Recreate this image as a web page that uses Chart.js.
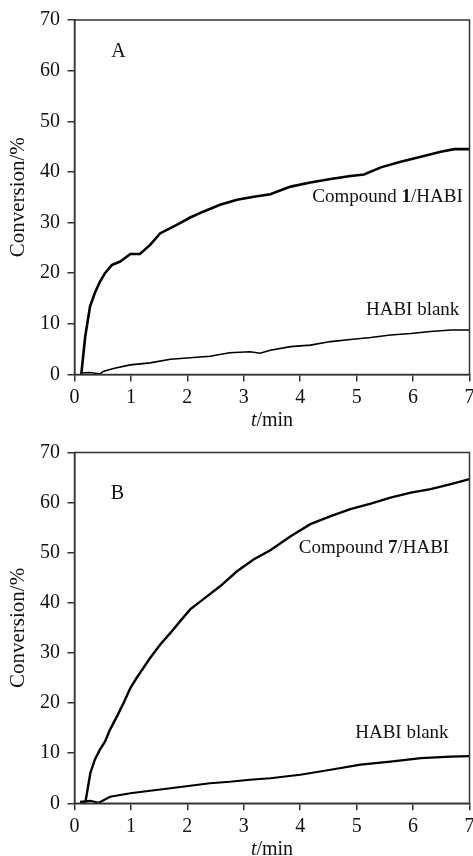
<!DOCTYPE html>
<html>
<head>
<meta charset="utf-8">
<script src="https://cdn.jsdelivr.net/npm/chart.js@4/dist/chart.umd.min.js"></script>
<style>
  html, body { margin: 0; padding: 0; background: #fff; overflow: hidden; width: 473px; height: 856px; }
  .wrap { position: absolute; left: 0; width: 480px; }
  #boxA { top: 0; height: 432px; }
  #boxB { top: 432px; height: 424px; }
</style>
</head>
<body>
<div class="wrap" id="boxA"><canvas id="chartA"></canvas></div>
<div class="wrap" id="boxB"><canvas id="chartB"></canvas></div>
<script>
// panel A: compound 1/HABI and HABI blank
const timeA1 = [0.12, 0.19, 0.275, 0.36, 0.45, 0.54, 0.66, 0.81, 0.99, 1.16, 1.34, 1.52, 1.70, 1.87, 2.05, 2.29, 2.58, 2.88, 3.18, 3.47, 3.83, 4.18, 4.54, 4.89, 5.13, 5.43, 5.78, 6.14, 6.49, 6.73, 7.0];
const convA1 = [0, 7.5, 13.4, 16.1, 18.3, 20, 21.6, 22.3, 23.8, 23.8, 25.6, 27.9, 28.9, 29.9, 31, 32.2, 33.5, 34.5, 35.1, 35.6, 37.1, 37.9, 38.6, 39.2, 39.5, 40.9, 42, 43, 44, 44.5, 44.5];
const timeA0 = [0.12, 0.28, 0.45, 0.51, 0.69, 0.99, 1.34, 1.70, 2.05, 2.40, 2.75, 3.11, 3.29, 3.47, 3.83, 4.18, 4.54, 4.89, 5.25, 5.6, 5.96, 6.31, 6.67, 7.0];
const convA0 = [0.3, 0.4, 0.1, 0.6, 1.2, 1.9, 2.3, 3.0, 3.3, 3.6, 4.3, 4.5, 4.2, 4.8, 5.5, 5.8, 6.5, 6.9, 7.3, 7.8, 8.1, 8.5, 8.8, 8.8];

// panel B: compound 7/HABI and HABI blank
const timeB7 = [0.10, 0.19, 0.28, 0.36, 0.45, 0.54, 0.63, 0.75, 0.87, 0.99, 1.10, 1.22, 1.34, 1.52, 1.70, 1.87, 2.05, 2.29, 2.58, 2.88, 3.18, 3.47, 3.83, 4.18, 4.54, 4.89, 5.25, 5.6, 5.96, 6.31, 6.67, 7.0];
const convB7 = [0.3, 0, 6, 8.7, 10.7, 12.3, 14.7, 17.3, 20, 23, 25, 27, 29, 31.7, 34, 36.3, 38.7, 40.8, 43.3, 46.3, 48.7, 50.5, 53.3, 55.7, 57.3, 58.7, 59.8, 61, 62, 62.7, 63.7, 64.7];
const timeB0 = [0.10, 0.28, 0.43, 0.63, 0.99, 1.34, 1.70, 2.05, 2.40, 2.75, 3.11, 3.47, 4.0, 4.54, 5.07, 5.6, 6.14, 6.67, 7.0];
const convB0 = [0.3, 0.5, 0.1, 1.3, 2.0, 2.5, 3.0, 3.5, 4.0, 4.3, 4.7, 5.0, 5.7, 6.7, 7.7, 8.3, 9.0, 9.3, 9.4];

const xTicks = [0, 1, 2, 3, 4, 5, 6, 7];
const yTicks = [0, 10, 20, 30, 40, 50, 60, 70];

const SERIF = '"Liberation Serif", "Times New Roman", serif';
const AXIS_COLOR = '#333';

function toPoints(xs, ys) {
    return xs.map((x, i) => ({ x: x, y: ys[i] }));
}

// draws the frame, the x title and the in-plot labels (text runs with mixed fonts)
const decorPlugin = {
    id: 'decor',
    afterDraw(chart, args, opts) {
        const ctx = chart.ctx;
        const area = chart.chartArea;
        const xs = chart.scales.x;
        const ys = chart.scales.y;
        ctx.save();
        ctx.strokeStyle = AXIS_COLOR;
        ctx.lineWidth = 1.5;
        ctx.strokeRect(area.left, area.top, area.right - area.left, area.bottom - area.top);

        const drawRuns = (runs, x, y, align) => {
            ctx.textBaseline = 'middle';
            ctx.textAlign = 'left';
            ctx.fillStyle = '#111';
            let total = 0;
            runs.forEach(r => { ctx.font = r.font; total += ctx.measureText(r.text).width; });
            let cx = align === 'right' ? x - total : (align === 'center' ? x - total / 2 : x);
            runs.forEach(r => {
                ctx.font = r.font;
                ctx.fillText(r.text, cx, y);
                cx += ctx.measureText(r.text).width;
            });
        };

        drawRuns([
            { text: 't', font: 'italic 20px ' + SERIF },
            { text: '/min', font: '20px ' + SERIF }
        ], (area.left + area.right) / 2, area.bottom + 46, 'center');

        opts.labels.forEach(l => {
            drawRuns(l.runs, xs.getPixelForValue(l.x), ys.getPixelForValue(l.y), l.align);
        });
        ctx.restore();
    }
};

function makeChart(canvas, series, labels, padTop, xHeight) {
    const config = {
        type: 'line',
        data: {
            datasets: series.map(s => ({
                data: toPoints(s.x, s.y),
                borderColor: '#000',
                borderWidth: s.width,
                pointRadius: 0,
                fill: false,
                tension: 0
            }))
        },
        options: {
            responsive: true,
            maintainAspectRatio: false,
            animation: false,
            layout: { padding: { top: padTop, right: 10.5, left: 0, bottom: 0 } },
            plugins: {
                legend: { display: false },
                tooltip: { enabled: false },
                decor: { labels: labels }
            },
            scales: {
                x: {
                    type: 'linear',
                    min: 0,
                    max: 7,
                    afterBuildTicks: axis => { axis.ticks = xTicks.map(v => ({ value: v })); },
                    afterFit: axis => { axis.height = xHeight; },
                    ticks: {
                        color: '#111',
                        padding: 4,
                        maxRotation: 0,
                        font: { family: SERIF, size: 20 }
                    },
                    grid: { drawOnChartArea: false, tickLength: 7, color: AXIS_COLOR, lineWidth: 1.5 },
                    border: { color: AXIS_COLOR, width: 1.5 }
                },
                y: {
                    min: 0,
                    max: 70,
                    afterBuildTicks: axis => { axis.ticks = yTicks.map(v => ({ value: v })); },
                    afterFit: axis => { axis.width = 74.5; },
                    title: {
                        display: true,
                        text: 'Conversion/%',
                        color: '#111',
                        padding: { top: 6, bottom: 0 },
                        font: { family: SERIF, size: 21 }
                    },
                    ticks: {
                        color: '#111',
                        padding: 7.5,
                        font: { family: SERIF, size: 20 }
                    },
                    grid: { drawOnChartArea: false, tickLength: 7, color: AXIS_COLOR, lineWidth: 1.5 },
                    border: { color: AXIS_COLOR, width: 1.5 }
                }
            }
        },
        plugins: [decorPlugin]
    };
    return new Chart(canvas, config);
}

const lbl = (size, bold) => (bold ? 'bold ' : '') + size + 'px ' + SERIF;

makeChart(document.getElementById('chartA'), [
    { x: timeA1, y: convA1, width: 2.6 },
    { x: timeA0, y: convA0, width: 1.6 }
], [
    { x: 0.78, y: 63.7, align: 'center', runs: [{ text: 'A', font: lbl(20) }] },
    { x: 6.88, y: 35.1, align: 'right', runs: [
        { text: 'Compound ', font: lbl(19) }, { text: '1', font: lbl(19, true) }, { text: '/HABI', font: lbl(19) }] },
    { x: 6.82, y: 12.7, align: 'right', runs: [{ text: 'HABI blank', font: lbl(19) }] }
], 20, 57.5);

makeChart(document.getElementById('chartB'), [
    { x: timeB7, y: convB7, width: 2.4 },
    { x: timeB0, y: convB0, width: 2.2 }
], [
    { x: 0.76, y: 61.7, align: 'center', runs: [{ text: 'B', font: lbl(20) }] },
    { x: 6.64, y: 50.9, align: 'right', runs: [
        { text: 'Compound ', font: lbl(19) }, { text: '7', font: lbl(19, true) }, { text: '/HABI', font: lbl(19) }] },
    { x: 6.63, y: 14.1, align: 'right', runs: [{ text: 'HABI blank', font: lbl(19) }] }
], 20.5, 52.7);
</script>
</body>
</html>
